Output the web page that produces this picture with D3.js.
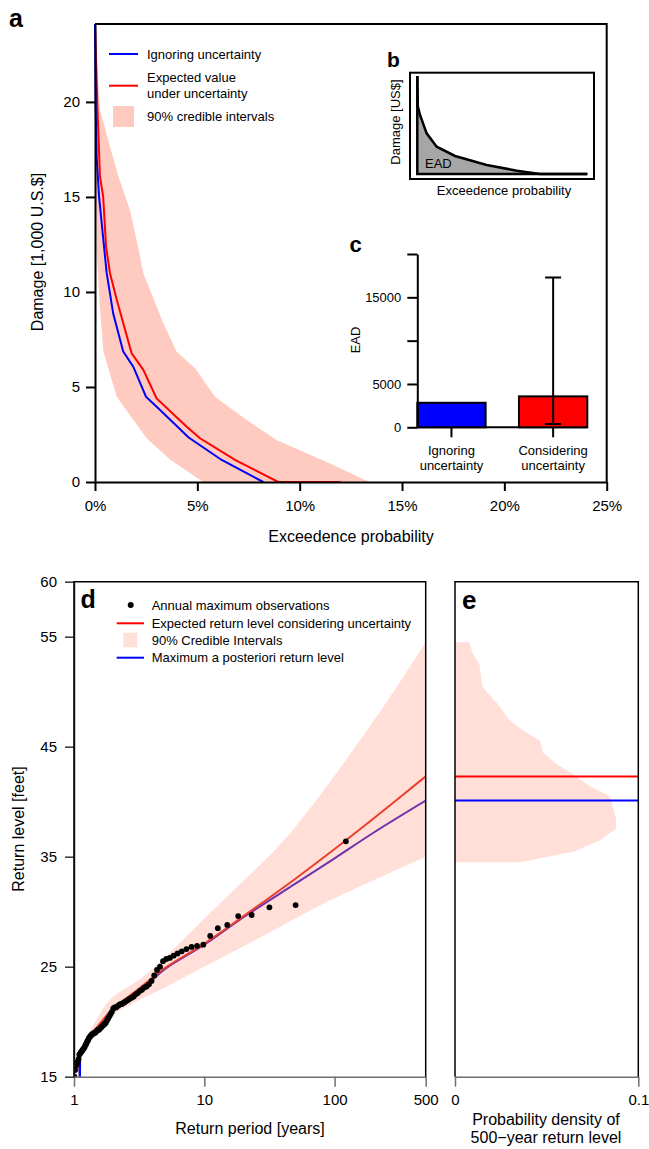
<!DOCTYPE html>
<html><head><meta charset="utf-8">
<script src="https://cdn.jsdelivr.net/npm/d3@7"></script>
<style>
body{margin:0;background:#fff}
text{font-family:"Liberation Sans",Arial,Helvetica,sans-serif;fill:#000}
</style>
</head><body>
<svg id="chart" width="649" height="1149"></svg>
<script>
// ---------------- Panel a data (exceedence probability in %, damage in 1,000 US$)
const aBlueProb = [0, 0.03, 0.08, 0.2, 0.44, 0.57, 0.89, 1.38, 1.87, 2.49, 3.18, 4.56, 6.19, 8.22];
const aBlueDmg  = [24.1, 20, 17.1, 15, 12.4, 11.0, 8.86, 6.86, 6.07, 4.49, 3.79, 2.35, 1.16, 0];
const aRedProb  = [0, 0.11, 0.24, 0.4, 0.54, 0.73, 1.06, 1.38, 1.79, 2.36, 3.01, 4.48, 5.13, 6.84, 8.95, 12.0];
const aRedDmg   = [24.1, 20, 16.1, 15, 12.4, 11.0, 9.6, 8.35, 6.77, 5.9, 4.4, 2.91, 2.3, 1.16, 0, 0];
const aBandUpProb = [0, 0.24, 0.73, 1.14, 1.71, 2.1, 2.36, 3.34, 3.99, 4.89, 5.86, 7.41, 8.87, 11.48, 13.4];
const aBandUpDmg  = [24.1, 19.6, 17.65, 16.1, 14.3, 12.4, 11.0, 8.35, 6.86, 5.98, 4.49, 3.26, 2.21, 0.98, 0];
const aBandLoProb = [0, 0.02, 0.05, 0.08, 0.24, 0.41, 1.06, 2.52, 3.66, 5.29];
const aBandLoDmg  = [24.1, 20, 15, 12.2, 9.2, 6.86, 4.49, 2.3, 1.19, 0];
const aXTicks = [0, 5, 10, 15, 20, 25];
const aYTicks = [0, 5, 10, 15, 20];

// ---------------- Panel b (schematic, relative units)
const bProb   = [0, 0.003, 0.016, 0.055, 0.114, 0.222, 0.408, 0.585, 0.722, 1.0];
const bDamage = [1.0, 0.69, 0.602, 0.415, 0.279, 0.184, 0.092, 0.034, 0.0, 0.0];

// ---------------- Panel c
const cCats = ["Ignoring\nuncertainty", "Considering\nuncertainty"];
const cEAD  = [2830, 3570];
const cErrLow = 380, cErrHigh = 17280;
const cYTicks = [0, 5000, 10000, 15000, 20000];
const cYLabels = [0, 5000, 15000];

// ---------------- Panel d (return period [years], return level [feet])
const obsT = [122, 50.2, 31.6, 23.1, 18.2, 15.0, 12.7, 11.1, 9.82, 8.80,
  7.98, 7.30, 6.72, 6.23, 5.81, 5.44, 5.11, 4.82, 4.57, 4.335,
  4.126, 3.935, 3.762, 3.603, 3.457, 3.323, 3.199, 3.083, 2.976, 2.875,
  2.782, 2.694, 2.612, 2.534, 2.461, 2.392, 2.327, 2.265, 2.207, 2.151,
  2.098, 2.048, 2.000, 1.954, 1.911, 1.869, 1.829, 1.790, 1.754, 1.718,
  1.684, 1.652, 1.620, 1.590, 1.561, 1.533, 1.506, 1.480, 1.455, 1.430,
  1.407, 1.384, 1.362, 1.341, 1.320, 1.300, 1.280, 1.261, 1.243, 1.225,
  1.208, 1.191, 1.175, 1.159, 1.143, 1.128, 1.113, 1.099, 1.085, 1.072,
  1.058, 1.045, 1.033, 1.020, 1.008];
const obsLevel = [36.4, 30.6, 30.4, 29.7, 29.6, 28.8, 28.5, 27.8, 27.0, 26.9,
  26.8, 26.6, 26.4, 26.2, 26.0, 25.8, 25.7, 25.5, 25.0, 24.7,
  24.2, 23.7, 23.4, 23.2, 23.1, 22.9, 22.8, 22.6, 22.5, 22.3,
  22.2, 22.1, 22.0, 21.9, 21.8, 21.7, 21.6, 21.6, 21.5, 21.4,
  21.3, 21.3, 21.2, 20.9, 20.7, 20.5, 20.3, 20.1, 19.9, 19.8,
  19.7, 19.6, 19.5, 19.4, 19.3, 19.25, 19.2, 19.1, 19.0, 19.0,
  18.9, 18.9, 18.8, 18.7, 18.6, 18.5, 18.3, 18.2, 18.0, 17.9,
  17.7, 17.6, 17.5, 17.4, 17.3, 17.2, 17.1, 17.0, 16.6, 16.4,
  16.3, 16.1, 16.0, 15.6, 15.0];
const expT     = [1.11, 1.25, 1.5, 2, 3, 4, 5, 10, 20, 50, 100, 200, 500];
const expLevel = [17.1, 18.3, 19.5, 21.2, 22.8, 24.0, 24.9, 27.1, 29.6, 33.0, 35.7, 38.5, 42.3];
const mapT     = [1.112, 1.113, 1.25, 1.5, 2, 3, 4, 5, 10, 20, 50, 100, 200, 500];
const mapLevel = [14.5, 17.0, 18.2, 19.4, 21.1, 22.7, 23.8, 24.8, 27.0, 29.5, 32.55, 34.85, 37.2, 40.1];
const ciUpT = [1.1, 1.18, 1.49, 1.89, 3.41, 6.53, 11.1, 25.4, 34.1, 54.7, 98.8, 239, 500];
const ciUpL = [16.9, 18.0, 20.2, 22.0, 24.1, 27.2, 29.9, 34.0, 35.5, 38.3, 42.3, 48.7, 54.5];
const ciLoT = [1.1, 1.15, 1.41, 1.89, 2.86, 5.16, 12.5, 30.4, 73.6, 178, 500];
const ciLoL = [16.9, 17.7, 19.2, 20.5, 21.7, 23.2, 25.6, 28.0, 30.45, 32.6, 35.0];
const dXTicks = [1, 10, 100, 500];
const dYTicks = [15, 25, 35, 45, 55, 60];

// ---------------- Panel e (density of 500-year return level)
const eDensity = [0, 0.0078, 0.0096, 0.0133, 0.0151, 0.0227, 0.0296, 0.0373, 0.0464, 0.0478, 0.0555, 0.0645, 0.0736, 0.0845, 0.0878, 0.0878, 0.0791, 0.0645, 0.0355, 0];
const eLevel   = [54.5, 54.5, 53.5, 52.5, 50.4, 49.0, 47.45, 46.45, 45.55, 44.5, 43.4, 42.5, 41.4, 40.5, 38.55, 37.55, 36.5, 35.45, 34.5, 34.5];
const eExpected = 42.3, eMAP = 40.1;
const eXTicks = [0, 0.1];

// ================= drawing
const svg = d3.select("#chart");
const zip = (xs, ys) => xs.map((x, i) => [x, ys[i]]);
const BAND_A = "#ffcbc1", BAND_D = "#ffdfd8";

function styleAxis(g, color, width, fs) {
  g.selectAll("path.domain").attr("stroke", color).attr("stroke-width", width);
  g.selectAll(".tick line").attr("stroke", color).attr("stroke-width", width);
  g.selectAll(".tick text").attr("font-size", fs).attr("fill", "#000")
    .style("font-family", '"Liberation Sans",Arial,sans-serif');
}

// ---------- Panel a
const xA = d3.scaleLinear([0, 25], [95, 606.7]);
const yA = d3.scaleLinear([0, 24.1], [482, 24]);
const lineA = d3.line().x(d => xA(d[0])).y(d => yA(d[1]));

const bandPoly = zip(aBandUpProb, aBandUpDmg).concat(zip(aBandLoProb, aBandLoDmg).reverse());
svg.append("path").attr("d", lineA(bandPoly) + "Z").attr("fill", BAND_A);
svg.append("path").attr("d", lineA(zip(aRedProb, aRedDmg))).attr("fill", "none").attr("stroke", "#ff0000").attr("stroke-width", 2);
svg.append("path").attr("d", lineA(zip(aBlueProb, aBlueDmg))).attr("fill", "none").attr("stroke", "#0000ff").attr("stroke-width", 2);

const gAx = svg.append("g").attr("transform", "translate(0,482)")
  .call(d3.axisBottom(xA).tickValues(aXTicks).tickFormat(d => d + "%").tickSize(9).tickSizeOuter(0).tickPadding(9));
styleAxis(gAx, "#000", 2, 15);
const gAy = svg.append("g").attr("transform", "translate(95,0)")
  .call(d3.axisLeft(yA).tickValues(aYTicks).tickSize(9).tickSizeOuter(0).tickPadding(6));
styleAxis(gAy, "#000", 2, 15);
svg.append("path").attr("d", `M${xA(0)},${yA(24.1)}H${xA(25)}V${yA(0)}`).attr("fill", "none").attr("stroke", "#000").attr("stroke-width", 2);

svg.append("text").attr("x", 351).attr("y", 541.5).attr("text-anchor", "middle").attr("font-size", 16).text("Exceedence probability");
svg.append("text").attr("transform", "translate(43,252) rotate(-90)").attr("text-anchor", "middle").attr("font-size", 16).text("Damage [1,000 U.S.$]");
svg.append("text").attr("x", 9).attr("y", 27).attr("font-size", 25).attr("font-weight", "bold").text("a");

// legend a
svg.append("line").attr("x1", 109).attr("x2", 138).attr("y1", 54).attr("y2", 54).attr("stroke", "#0000ff").attr("stroke-width", 2);
svg.append("text").attr("x", 147).attr("y", 59).attr("font-size", 13).text("Ignoring uncertainty");
svg.append("line").attr("x1", 109).attr("x2", 138).attr("y1", 85.7).attr("y2", 85.7).attr("stroke", "#ff0000").attr("stroke-width", 2);
svg.append("text").attr("x", 147).attr("y", 82.3).attr("font-size", 13).text("Expected value");
svg.append("text").attr("x", 147).attr("y", 97.6).attr("font-size", 13).text("under uncertainty");
svg.append("rect").attr("x", 113).attr("y", 106).attr("width", 21).attr("height", 21).attr("fill", BAND_A);
svg.append("text").attr("x", 147).attr("y", 121).attr("font-size", 13).text("90% credible intervals");

// ---------- Panel b
const xB = d3.scaleLinear([0, 1], [417.3, 587.3]);
const yB = d3.scaleLinear([0, 1], [174, 76]);
svg.append("rect").attr("x", 410).attr("y", 72.7).attr("width", 184).attr("height", 106.3).attr("fill", "#fff").attr("stroke", "#000").attr("stroke-width", 2);
const areaB = d3.area().x(d => xB(d[0])).y0(yB(0)).y1(d => yB(d[1]));
svg.append("path").attr("d", areaB(zip(bProb, bDamage))).attr("fill", "#a6a6a6");
svg.append("path").attr("d", d3.line().x(d => xB(d[0])).y(d => yB(d[1]))(zip(bProb, bDamage))).attr("fill", "none").attr("stroke", "#000").attr("stroke-width", 2.5);
svg.append("path").attr("d", `M${xB(0)},${yB(1)}V${yB(0)}H${xB(1)}`).attr("fill", "none").attr("stroke", "#000").attr("stroke-width", 2.5);
svg.append("text").attr("x", 425).attr("y", 168).attr("font-size", 13).text("EAD");
svg.append("text").attr("x", 504).attr("y", 195).attr("text-anchor", "middle").attr("font-size", 13).text("Exceedence probability");
svg.append("text").attr("transform", "translate(400,122) rotate(-90)").attr("text-anchor", "middle").attr("font-size", 13).text("Damage [US$]");
svg.append("text").attr("x", 387).attr("y", 67).attr("font-size", 21).attr("font-weight", "bold").text("b");

// ---------- Panel c
const xC = d3.scaleBand(cCats, [417.3, 587.3]).paddingInner(0.328).paddingOuter(0);
const yC = d3.scaleLinear([0, 20000], [427.3, 254]);
svg.append("line").attr("x1", xC.range()[0]).attr("x2", xC.range()[1]).attr("y1", yC(0)).attr("y2", yC(0)).attr("stroke", "#000").attr("stroke-width", 2);
svg.selectAll("rect.barc").data(cCats).join("rect").attr("class", "barc")
  .attr("x", d => xC(d)).attr("width", xC.bandwidth())
  .attr("y", (d, i) => yC(cEAD[i])).attr("height", (d, i) => yC(0) - yC(cEAD[i]))
  .attr("fill", (d, i) => i === 0 ? "#0000ff" : "#ff0000").attr("stroke", "#000").attr("stroke-width", 2);
const exC = xC(cCats[1]) + xC.bandwidth() / 2;
svg.append("path").attr("d", `M${exC},${yC(cErrHigh)}V${yC(cErrLow)}M${exC - 8},${yC(cErrHigh)}H${exC + 8}M${exC - 8},${yC(cErrLow)}H${exC + 8}`)
  .attr("fill", "none").attr("stroke", "#000").attr("stroke-width", 2);
const gCy = svg.append("g").attr("transform", "translate(417.3,0)")
  .call(d3.axisLeft(yC).tickValues(cYTicks).tickSize(10).tickSizeOuter(0).tickPadding(6)
    .tickFormat(d => cYLabels.includes(d) ? d : ""));
styleAxis(gCy, "#000", 2, 13);
cCats.forEach(c => {
  const cx = xC(c) + xC.bandwidth() / 2;
  svg.append("line").attr("x1", cx).attr("x2", cx).attr("y1", yC(0)).attr("y2", yC(0) + 10).attr("stroke", "#000").attr("stroke-width", 2);
  c.split("\n").forEach((t, j) => svg.append("text").attr("x", cx).attr("y", 454.5 + j * 15.2)
    .attr("text-anchor", "middle").attr("font-size", 13).text(t));
});
svg.append("text").attr("transform", "translate(359.6,340) rotate(-90)").attr("text-anchor", "middle").attr("font-size", 13).text("EAD");
svg.append("text").attr("x", 349.5).attr("y", 252).attr("font-size", 22).attr("font-weight", "bold").text("c");

// ---------- Panel d
const xD = d3.scaleLog([1, 500], [74, 425.7]);
const yD = d3.scaleLinear([15, 60], [1076.7, 581.7]);
const lineD = d3.line().x(d => xD(d[0])).y(d => yD(d[1])).curve(d3.curveCatmullRom.alpha(0.5));
svg.append("clipPath").attr("id", "clipD").append("rect").attr("x", 74).attr("y", 581.7).attr("width", 351.7).attr("height", 495);
const gD = svg.append("g").attr("clip-path", "url(#clipD)");
const upPath = lineD(zip(ciUpT, ciUpL));
const loPath = lineD(zip(ciLoT, ciLoL).reverse());
gD.append("path").attr("d", upPath + "L" + loPath.slice(1) + "Z").attr("fill", BAND_D);
const mapPts = zip(mapT, mapLevel);
gD.append("path").attr("d", lineD(mapPts)).attr("fill", "none").attr("stroke", "#7033ab").attr("stroke-width", 2);
gD.append("path").attr("d", d3.line().x(d => xD(d[0])).y(d => yD(d[1]))(mapPts.filter(d => d[1] <= ciLoL[1] - 0.7)))
  .attr("fill", "none").attr("stroke", "#0000ff").attr("stroke-width", 2);
gD.append("path").attr("d", lineD(zip(expT, expLevel))).attr("fill", "none").attr("stroke", "#e8402d").attr("stroke-width", 2);
gD.selectAll("circle.obs").data(zip(obsT, obsLevel)).join("circle").attr("class", "obs")
  .attr("cx", d => xD(d[0])).attr("cy", d => yD(d[1])).attr("r", 2.9).attr("fill", "#000");

const gDx = svg.append("g").attr("transform", "translate(0,1076.7)")
  .call(d3.axisBottom(xD).tickValues(dXTicks).tickFormat(d3.format("d")).tickSize(10).tickSizeOuter(0).tickPadding(8));
styleAxis(gDx, "#6e6e6e", 1.5, 15);
const gDy = svg.append("g").attr("transform", "translate(74,0)")
  .call(d3.axisLeft(yD).tickValues(dYTicks).tickSize(9).tickSizeOuter(0).tickPadding(8));
styleAxis(gDy, "#333", 1.5, 15);
svg.append("path").attr("d", `M${xD(1)},${yD(15)}V${yD(60)}H${xD(500)}V${yD(15)}`).attr("fill", "none").attr("stroke", "#000").attr("stroke-width", 1.5);

svg.append("text").attr("x", 250).attr("y", 1134).attr("text-anchor", "middle").attr("font-size", 16).text("Return period [years]");
svg.append("text").attr("transform", "translate(23.5,829) rotate(-90)").attr("text-anchor", "middle").attr("font-size", 16).text("Return level [feet]");
svg.append("text").attr("x", 80.5).attr("y", 607.7).attr("font-size", 25).attr("font-weight", "bold").text("d");

// legend d
svg.append("circle").attr("cx", 130.7).attr("cy", 605).attr("r", 3).attr("fill", "#000");
svg.append("text").attr("x", 151.7).attr("y", 609.6).attr("font-size", 13).text("Annual maximum observations");
svg.append("line").attr("x1", 116.7).attr("x2", 144).attr("y1", 623.3).attr("y2", 623.3).attr("stroke", "#ff0000").attr("stroke-width", 2);
svg.append("text").attr("x", 151.7).attr("y", 627.9).attr("font-size", 13).text("Expected return level considering uncertainty");
svg.append("rect").attr("x", 123.3).attr("y", 632.7).attr("width", 14).attr("height", 14.6).attr("fill", BAND_D);
svg.append("text").attr("x", 151.7).attr("y", 645.3).attr("font-size", 13).text("90% Credible Intervals");
svg.append("line").attr("x1", 116.7).attr("x2", 144).attr("y1", 657.7).attr("y2", 657.7).attr("stroke", "#0000ff").attr("stroke-width", 2);
svg.append("text").attr("x", 151.7).attr("y", 662.3).attr("font-size", 13).text("Maximum a posteriori return level");

// ---------- Panel e
const xE = d3.scaleLinear([0, 0.1], [455, 638.3]);
const lineE = d3.line().x(d => xE(d[0])).y(d => yD(d[1]));
svg.append("path").attr("d", lineE(zip(eDensity, eLevel)) + "Z").attr("fill", BAND_D);
svg.append("line").attr("x1", xE(0)).attr("x2", xE(0.1)).attr("y1", yD(eExpected)).attr("y2", yD(eExpected)).attr("stroke", "#ff0000").attr("stroke-width", 2);
svg.append("line").attr("x1", xE(0)).attr("x2", xE(0.1)).attr("y1", yD(eMAP)).attr("y2", yD(eMAP)).attr("stroke", "#0000ff").attr("stroke-width", 2);
const gEx = svg.append("g").attr("transform", "translate(0,1076.7)")
  .call(d3.axisBottom(xE).tickValues(eXTicks).tickFormat(d => d === 0 ? "0" : "0.1").tickSize(10).tickSizeOuter(0).tickPadding(8));
styleAxis(gEx, "#6e6e6e", 1.5, 15);
svg.append("path").attr("d", `M${xE(0)},${yD(15)}V${yD(60)}H${xE(0.1)}V${yD(15)}`).attr("fill", "none").attr("stroke", "#000").attr("stroke-width", 1.5);
svg.append("text").attr("x", 546).attr("y", 1124.5).attr("text-anchor", "middle").attr("font-size", 16).text("Probability density of");
svg.append("text").attr("x", 546).attr("y", 1142.5).attr("text-anchor", "middle").attr("font-size", 16).text("500\u2212year return level");
svg.append("text").attr("x", 462).attr("y", 608.5).attr("font-size", 26).attr("font-weight", "bold").text("e");
</script>
</body></html>
